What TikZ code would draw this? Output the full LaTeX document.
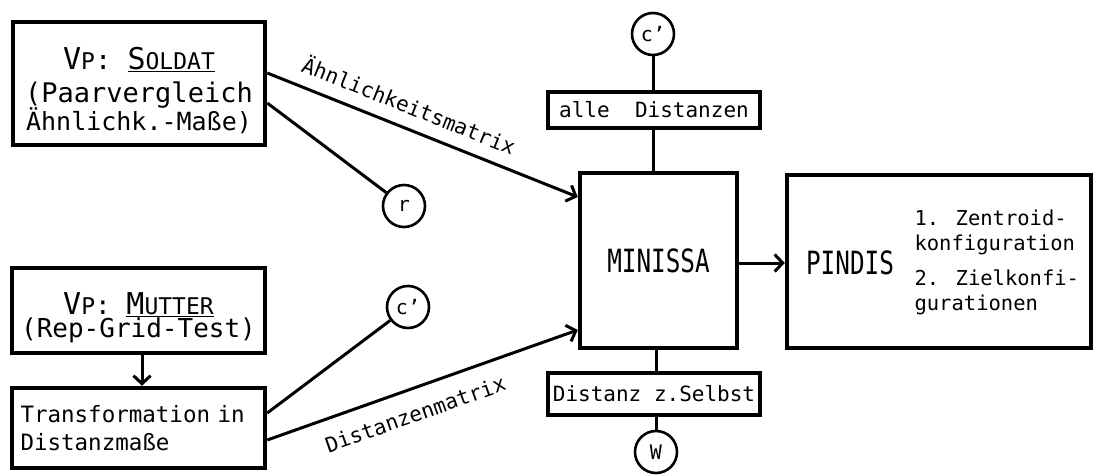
\documentclass[tikz,border=0pt]{standalone}
\usepackage{fontspec}
\setmainfont{DejaVu Sans Mono}
\newfontfamily\condfont[FakeStretch=0.76]{DejaVu Sans Mono}
\usetikzlibrary{arrows.meta,positioning}

% fake small caps: big first letter, smaller rest
\newcommand{\fsc}[2]{{\fontsize{30}{32}\selectfont #1}{\fontsize{23}{26}\selectfont #2}}
\newcommand{\cprime}{c\char"27}

\begin{document}
\begin{tikzpicture}[
    x=1pt, y=-1pt,
    box/.style={rectangle, draw, line width=4.5pt, inner sep=0pt},
    label box/.style={rectangle, draw, line width=3.5pt, inner sep=0pt,
        font=\fontsize{21}{24}\selectfont},
    wheel/.style={circle, draw, line width=2.6pt, minimum size=42pt, inner sep=0pt,
        font=\fontsize{20}{22}\selectfont},
    link/.style={line width=3pt},
    arrow/.style={line width=3pt, -{Straight Barb[length=8pt,width=17pt]}},
    edge text/.style={font=\fontsize{21}{24}\selectfont, sloped}
]
    \useasboundingbox (0,0) rectangle (1099,474);

    % sources
    \node[box, minimum width=252pt, minimum height=123pt, align=center] (soldat) at (139,83.5)
        {\rule{0pt}{36pt}\fsc{V}{P}{\fontsize{27}{30}\selectfont: }\underline{\fsc{S}{OLDAT}}\\[9pt]
         {\fontsize{27}{30}\selectfont (Paarvergleich}\\[-2pt]
         {\fontsize{25}{28}\selectfont Ähnlichk.-Maße)}};
    \node[box, minimum width=253pt, minimum height=85pt, align=center] (mutter) at (138.5,310.5)
        {\rule{0pt}{37pt}\fsc{V}{P}{\fontsize{26}{28}\selectfont: }\underline{\fsc{M}{UTTER}}\\[0pt]
         {\fontsize{26}{28}\selectfont(Rep-Grid-Test)}};
    \node[box, minimum width=253pt, minimum height=80pt, text width=236pt, align=left,
        font=\fontsize{22.5}{28}\selectfont] (transf) at (138.5,428)
        {Transformation in\\Distanzmaße};

    % programs
    \node[box, minimum width=157pt, minimum height=175pt, font=\condfont\fontsize{32}{34}\selectfont] (minissa) at (658.5,260.5) {MINISSA};
    \node[box, minimum width=304pt, minimum height=173pt] (pindis) at (939,261.5) {};
    \node[font=\condfont\fontsize{32}{34}\selectfont] (pname) at (850,263) {PINDIS};
    \node[anchor=west, align=left, font=\fontsize{20.5}{25}\selectfont] (plist) at (911,262)
        {1. Zentroid-\\konfiguration\\[10pt]2. Zielkonfi-\\gurationen};

    % side conditions
    \node[label box, minimum width=212pt, minimum height=36pt] (alle) at (654,110) {alle\ \ Distanzen};
    \node[label box, minimum width=212pt, minimum height=42pt] (distz) at (654,394) {Distanz z.Selbst};

    \node[wheel] (ctop) at (653,34) {\cprime};
    \node[wheel] (wbot) at (656,452) {W};
    \node[wheel] (rcirc) at (404,206) {r};
    \node[wheel] (clow) at (408,307) {\cprime};

    % connectors
    \draw[arrow] ([yshift=10.5pt]soldat.east) -- node[edge text, above=9pt, pos=0.43] {Ähnlichkeitsmatrix} ([yshift=63.5pt]minissa.west);
    \draw[link] ([yshift=-19.5pt]soldat.east) -- (rcirc);
    \draw[arrow] (mutter.south -| 142,0) -- (transf.north -| 142,0);
    \draw[link] ([yshift=15pt]transf.east) -- (clow);
    \draw[arrow] ([yshift=-12pt]transf.east) -- node[edge text, below=12pt, pos=0.45] {Distanzenmatrix} ([yshift=-69.5pt]minissa.west);
    \draw[arrow] (minissa.east |- 0,263) -- (pindis.west |- 0,263);

    \draw[link] (ctop) -- (ctop |- alle.north);
    \draw[link] (alle.south -| ctop) -- (minissa.north -| ctop);
    \draw[link] (minissa.south -| wbot) -- (distz.north -| wbot);
    \draw[link] (distz.south -| wbot) -- (wbot);
\end{tikzpicture}
\end{document}
